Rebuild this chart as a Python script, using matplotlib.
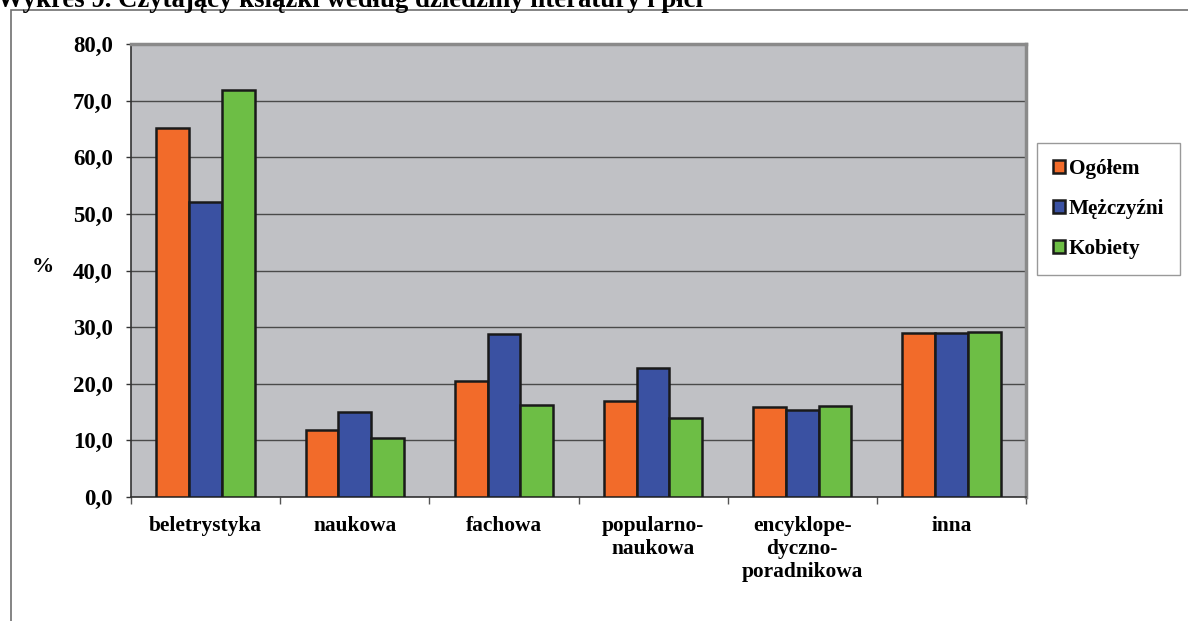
import numpy as np
import matplotlib
matplotlib.use("Agg")
from matplotlib import pyplot as plt
from matplotlib.patches import Rectangle

# data
categories = ["beletrystyka", "naukowa", "fachowa", "popularno-\nnaukowa",
              "encyklope-\ndyczno-\nporadnikowa", "inna"]
ogolem = [65.2, 11.8, 20.5, 17.0, 15.9, 29.0]
mezczyzni = [52.1, 15.0, 28.8, 22.8, 15.4, 29.0]
kobiety = [71.9, 10.4, 16.3, 14.0, 16.1, 29.2]
series_names = ["Ogółem", "Mężczyźni", "Kobiety"]
series_colors = ["#f26b2a", "#3a51a2", "#6dbe45"]
yticks = [0, 10, 20, 30, 40, 50, 60, 70, 80]

plt.rcParams["font.family"] = ["Liberation Serif", "DejaVu Serif"]
plt.rcParams["font.weight"] = "bold"

fig = plt.figure(figsize=(11.88, 6.21), dpi=100)
W, H = 1188, 621
ax = fig.add_axes([131 / W, 1 - 497 / H, (1026 - 131) / W, (497 - 44) / H])
ax.set_facecolor("#c0c1c5")

# outer frame of the chart object (cut by the page)
fig.add_artist(Rectangle((11 / W, -0.1), 1.2, 1 - 10 / H + 0.1,
                         transform=fig.transFigure, fill=False,
                         edgecolor="#707070", linewidth=1.2))

x = np.arange(len(categories))
width = 0.22
for i, (vals, name, col) in enumerate(zip([ogolem, mezczyzni, kobiety], series_names, series_colors)):
    ax.bar(x + (i - 1) * width, vals, width, color=col, edgecolor="#1a1a1a",
           linewidth=1.8, label=name, zorder=3)

ax.set_xlim(-0.5, len(categories) - 0.5)
ax.set_ylim(0, 80)
ax.set_yticks(yticks)
ax.set_yticklabels([f"{v:.1f}".replace(".", ",") for v in yticks], fontsize=16.5, fontweight="bold")
ax.yaxis.grid(True, color="#4a4a4a", linewidth=1.0, zorder=1)
ax.set_axisbelow(True)
ax.tick_params(axis="y", direction="out", length=3.5, width=1, color="#333333", pad=9.5)

ax.set_xticks(x)
ax.set_xticklabels(categories, fontsize=15.4, fontweight="bold", linespacing=1.2)
ax.tick_params(axis="x", which="major", length=0, pad=14)
ax.set_xticks(np.arange(len(categories) + 1) - 0.5, minor=True)
ax.tick_params(axis="x", which="minor", direction="out", length=5, width=1, color="#555555")

for side in ["left", "bottom"]:
    ax.spines[side].set_color("#333333")
    ax.spines[side].set_linewidth(1.2)
for side in ["top", "right"]:
    ax.spines[side].set_color("#8a8a8a")
    ax.spines[side].set_linewidth(2.5)

fig.text(32 / W, 1 - 267 / H, "%", fontsize=16, fontweight="bold", va="center", ha="left")

fig.text(-3 / W, 1 - 7 / H, "Wykres 9. Czytający książki według dziedziny literatury i płci",
         fontsize=19.3, fontweight="bold", va="baseline", ha="left")

leg = fig.legend(loc="upper left", bbox_to_anchor=(1037 / W, 1 - 143 / H),
                 fontsize=15.3, frameon=True, fancybox=False, borderpad=0.75,
                 labelspacing=0.95, handlelength=0.55, handleheight=0.55,
                 handletextpad=0.2, borderaxespad=0)
leg.get_frame().set_edgecolor("#808080")
leg.get_frame().set_linewidth(1.0)
for t in leg.get_texts():
    t.set_fontweight("bold")

fig.savefig("out.png", dpi=100)
